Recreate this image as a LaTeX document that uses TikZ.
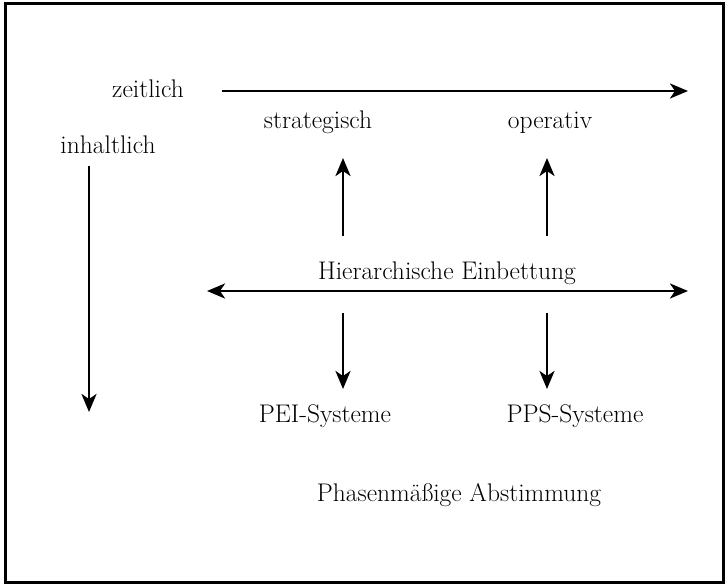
\documentclass[tikz,border=0pt]{standalone}
\usetikzlibrary{arrows.meta}

\begin{document}
\begin{tikzpicture}[x=1pt,y=-1pt,>={Stealth[length=18pt,width=15pt,inset=5pt]},
    lbl/.style={anchor=base,inner sep=0pt,font=\fontsize{25.5}{30}\selectfont},
    arr/.style={->,line width=2.7pt}]
  \useasboundingbox (0,0) rectangle (728,588);
  \draw[line width=3pt] (5,4) rectangle (723,582); % frame
  % labels
  \node[lbl] (zeit) at (148,98) {zeitlich};
  \node[lbl] (inhalt) at (108,154) {inhaltlich};
  \node[lbl] (strat) at (318,129) {strategisch};
  \node[lbl] (oper) at (550,129) {operativ};
  \node[lbl] (hier) at (447,279) {Hierarchische Einbettung};
  \node[lbl] (pei) at (325,422) {PEI-Systeme};
  \node[lbl] (pps) at (575,422) {PPS-Systeme};
  \node[lbl] (phase) at (459,501) {Phasenmäßige Abstimmung};
  % arrow ends
  \coordinate (zs) at (222,91);
  \coordinate (ze) at (688,91);
  \coordinate (is) at (89,166);
  \coordinate (ie) at (89,412);
  \coordinate (hl) at (207,291);
  \coordinate (hr) at (688,291);
  \coordinate (sl) at (343,236);
  \coordinate (sr) at (547,236);
  \coordinate (tl) at (343,158);
  \coordinate (tr) at (547,158);
  \coordinate (dl) at (343,313);
  \coordinate (dr) at (547,313);
  \coordinate (bl) at (343,389);
  \coordinate (br) at (547,389);
  % arrows
  \draw[arr] (zs) -- (ze);
  \draw[arr] (is) -- (ie);
  \draw[arr,<->] (hl) -- (hr);
  \draw[arr] (sl) -- (tl);
  \draw[arr] (sr) -- (tr);
  \draw[arr] (dl) -- (bl);
  \draw[arr] (dr) -- (br);
\end{tikzpicture}
\end{document}
